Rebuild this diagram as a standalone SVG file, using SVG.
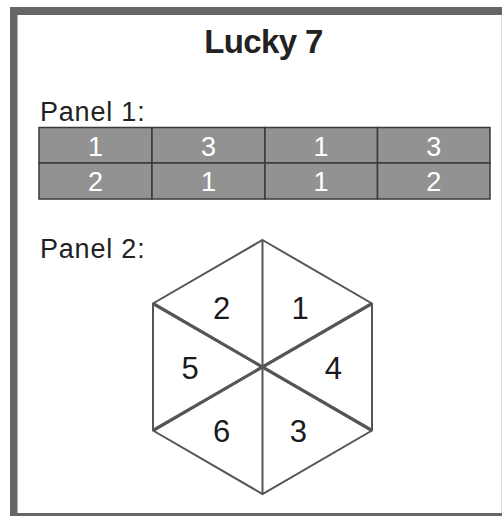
<svg xmlns="http://www.w3.org/2000/svg" width="502" height="516" viewBox="0 0 502 516">
<style>
.t{font-family:"Liberation Sans",Arial,sans-serif;fill:#222}
.lbl{font-size:27px;letter-spacing:0.8px}
.cell{fill:#929292;stroke:#3a3a3a;stroke-width:1.5}
.ct{font-family:"Liberation Sans",Arial,sans-serif;font-size:27px;fill:#fff;text-anchor:middle}
.hx{font-family:"Liberation Sans",Arial,sans-serif;font-size:31px;fill:#1a1a1a;text-anchor:middle}
.thin{stroke:#555;stroke-width:2;fill:none;stroke-linejoin:miter}
.thick{stroke:#555;stroke-width:3.2;fill:none}
</style>
<g id="frame">
<rect x="10" y="7" width="492" height="509" fill="#666"/>
<rect x="17.5" y="15" width="483.5" height="498" fill="#fff"/>
<rect x="501" y="15" width="1" height="498" fill="#ddd"/>
</g>
<g id="title"><text class="t" x="263.5" y="53" font-size="33" font-weight="bold" text-anchor="middle" letter-spacing="-0.6">Lucky 7</text></g>
<g id="panel1">
<text class="t lbl" x="40" y="120.5">Panel 1:</text>
<g id="table">
<rect class="cell" x="39" y="127.5" width="113" height="35.5"/>
<rect class="cell" x="152" y="127.5" width="113" height="35.5"/>
<rect class="cell" x="265" y="127.5" width="112.5" height="35.5"/>
<rect class="cell" x="377.5" y="127.5" width="112.5" height="35.5"/>
<rect class="cell" x="39" y="163" width="113" height="36"/>
<rect class="cell" x="152" y="163" width="113" height="36"/>
<rect class="cell" x="265" y="163" width="112.5" height="36"/>
<rect class="cell" x="377.5" y="163" width="112.5" height="36"/>
<text class="ct" x="95.5" y="155.7">1</text>
<text class="ct" x="208.5" y="155.7">3</text>
<text class="ct" x="321" y="155.7">1</text>
<text class="ct" x="433.75" y="155.7">3</text>
<text class="ct" x="95.5" y="190.7">2</text>
<text class="ct" x="208.5" y="190.7">1</text>
<text class="ct" x="321" y="190.7">1</text>
<text class="ct" x="433.75" y="190.7">2</text>
</g>
</g>
<g id="panel2">
<text class="t lbl" x="40" y="258.3">Panel 2:</text>
<g id="connectors">
<polygon class="thin" points="262.5,240 372,303.5 372,430.5 262.5,494 153,430.5 153,303.5"/>
<line class="thin" x1="262.5" y1="240" x2="262.5" y2="494"/>
<line class="thick" x1="153" y1="303.5" x2="372" y2="430.5"/>
<line class="thick" x1="372" y1="303.5" x2="153" y2="430.5"/>
</g>
<g id="seg2"><text class="hx" x="221.7" y="318.7">2</text></g>
<g id="seg1"><text class="hx" x="300" y="318.7">1</text></g>
<g id="seg5"><text class="hx" x="190" y="379.3">5</text></g>
<g id="seg4"><text class="hx" x="333.3" y="379.3">4</text></g>
<g id="seg6"><text class="hx" x="221.7" y="442">6</text></g>
<g id="seg3"><text class="hx" x="298.3" y="442">3</text></g>
</g>
</svg>
